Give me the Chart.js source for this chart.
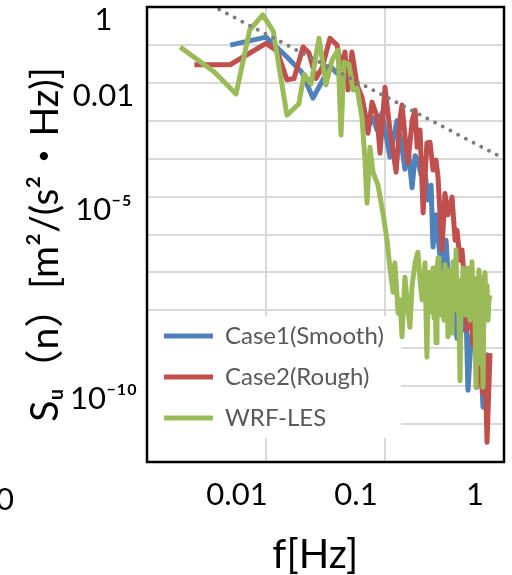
<!DOCTYPE html>
<html>
<head>
<meta charset="utf-8">
<script src="https://cdn.jsdelivr.net/npm/chart.js@4.4.0/dist/chart.umd.min.js"></script>
<style>
  html, body { margin: 0; padding: 0; background: #fff; }
</style>
</head>
<body>
<canvas id="spec" width="512" height="575"></canvas>
<script>
// axis ticks (log decades), labels only on some of them
const xTicks = [0.001, 0.01, 0.1, 1];
const xTickLabels = ['', '0.01', '0.1', '1'];
const yTicks = [1, 1e-1, 1e-2, 1e-3, 1e-4, 1e-5, 1e-6, 1e-7, 1e-8, 1e-9, 1e-10, 1e-11, 1e-12];
const yTickLabels = ['1', '', '0.01', '', '', '10⁻⁵', '', '', '', '', '10⁻¹⁰', '', ''];

// Case1 (Smooth)
const case1F = [0.005, 0.01, 0.015, 0.020, 0.0248, 0.0301, 0.0345, 0.0395, 0.0479, 0.0582, 0.0653, 0.0720, 0.0793, 0.0857, 0.0944, 0.110, 0.126, 0.136, 0.147, 0.156, 0.169, 0.179, 0.189, 0.201, 0.217, 0.230, 0.244, 0.253, 0.268, 0.290, 0.307, 0.326, 0.345, 0.366, 0.388, 0.403, 0.427, 0.452, 0.479, 0.498, 0.528, 0.560, 0.593, 0.628, 0.666, 0.692, 0.748];
const case1S = [9.9e-2, 1.6e-1, 4.8e-2, 1.9e-2, 4.0e-3, 1.2e-2, 2.8e-2, 1.8e-2, 1.05e-2, 7.3e-3, 2.9e-3, 6.8e-4, 1.2e-3, 5.7e-4, 1.6e-3, 1.1e-4, 1.0e-3, 3.1e-4, 5.3e-5, 2.0e-4, 1.7e-5, 1.2e-4, 9.2e-5, 3.7e-5, 4.2e-5, 8.1e-6, 2.0e-5, 4.7e-7, 3.3e-6, 2.5e-7, 1.15e-7, 7.1e-7, 3.4e-8, 8.5e-8, 5.5e-9, 1.85e-9, 1.9e-8, 3.0e-9, 1.0e-8, 7.8e-11, 1.6e-9, 5.5e-9, 2.6e-10, 1.6e-9, 2.8e-11, 4.9e-10, 7.4e-10];

// Case2 (Rough)
const case2F = [0.0025, 0.005, 0.01, 0.0124, 0.015, 0.0172, 0.0205, 0.0230, 0.0263, 0.0296, 0.0345, 0.0395, 0.0435, 0.0461, 0.0489, 0.0528, 0.0582, 0.0641, 0.0720, 0.0778, 0.0857, 0.0908, 0.100, 0.110, 0.124, 0.134, 0.139, 0.147, 0.156, 0.169, 0.179, 0.186, 0.197, 0.209, 0.225, 0.239, 0.253, 0.268, 0.279, 0.301, 0.319, 0.338, 0.366, 0.388, 0.403, 0.427, 0.444, 0.461, 0.489, 0.518, 0.549, 0.571, 0.593, 0.628, 0.666, 0.692, 0.720, 0.763];
const case2S = [3.0e-2, 3.0e-2, 1.1e-1, 6.9e-2, 1.2e-2, 1.3e-2, 8.8e-2, 6.1e-2, 1.3e-2, 2.5e-2, 1.5e-1, 9.9e-2, 2.2e-2, 6.5e-2, 6.5e-3, 6.5e-2, 8.8e-3, 4.2e-3, 4.7e-4, 3.1e-3, 1.3e-3, 1.4e-4, 7.7e-3, 5.7e-4, 4.4e-5, 1.2e-3, 2.6e-3, 4.2e-4, 7.7e-5, 1.0e-3, 1.9e-3, 2.0e-4, 5.7e-4, 3.7e-6, 2.6e-4, 2.7e-4, 5.0e-5, 9.2e-5, 3.3e-5, 3.9e-7, 1.2e-5, 3.3e-6, 9.7e-6, 7.1e-7, 1.3e-6, 2.1e-7, 3.9e-7, 8.5e-8, 3.0e-9, 3.4e-8, 1.2e-9, 5.5e-9, 9.4e-11, 8.9e-10, 6.5e-11, 6.6e-10, 3.3e-12, 7.4e-10];

// WRF-LES
const wrfF = [0.0019, 0.0037, 0.0056, 0.0073, 0.0094, 0.0115, 0.015, 0.0189, 0.0209, 0.0239, 0.0279, 0.0319, 0.0359, 0.0403, 0.0427, 0.0452, 0.0498, 0.0538, 0.0582, 0.0641, 0.0679, 0.0706, 0.0748, 0.0793, 0.0873, 0.0962, 0.104, 0.110, 0.117, 0.121, 0.129, 0.134, 0.139, 0.147, 0.153, 0.162, 0.169, 0.179, 0.189, 0.197, 0.205, 0.217, 0.225,
  0.2298, 0.2343, 0.2388, 0.2435, 0.2483, 0.2531, 0.2581, 0.2632, 0.2683, 0.2735, 0.2789, 0.2843, 0.2900, 0.2956, 0.3013, 0.3072, 0.3132, 0.3193, 0.3256, 0.3319, 0.3384, 0.3450, 0.3518, 0.3586, 0.3656, 0.3728, 0.3800, 0.3875, 0.3950, 0.4027, 0.4106, 0.4186, 0.4270, 0.4353, 0.4437, 0.4524, 0.4612, 0.4702, 0.4794, 0.4888, 0.4983, 0.5081, 0.5180, 0.5281, 0.5383, 0.5489, 0.5596, 0.5706, 0.5817, 0.5930, 0.6046, 0.6164, 0.6284, 0.6407, 0.6533, 0.6660, 0.6790, 0.6923, 0.7058, 0.7196, 0.7337, 0.7480, 0.7627];
const wrfS = [8.8e-2, 1.9e-2, 5.1e-3, 2.5e-1, 6.2e-1, 2.3e-1, 1.4e-3, 2.8e-3, 1.7e-2, 9.3e-3, 1.5e-1, 8.8e-3, 4.0e-2, 7.3e-2, 4.2e-4, 3.5e-2, 3.1e-2, 6.5e-3, 7.3e-3, 1.2e-3, 9.2e-5, 6.7e-6, 2.0e-4, 4.4e-5, 2.0e-5, 3.7e-6, 7.1e-7, 1.3e-7, 3.0e-8, 1.8e-7, 8.4e-9, 1.9e-8, 2.0e-9, 7.5e-8, 1.9e-8, 3.6e-9, 4.6e-8, 1.8e-7, 3.4e-7, 6.3e-8, 1.9e-8, 1.8e-7, 5.8e-10,
  1.9e-8, 1.0e-7, 9.0e-9, 8.5e-8, 1.4e-8, 1.3e-7, 6.2e-9, 6.3e-8, 1.4e-9, 1.15e-7, 2.4e-7, 1.4e-8, 6.3e-8, 7.5e-9, 1.0e-7, 1.9e-8, 5.5e-9, 1.6e-7, 1.4e-8, 4.6e-8, 2.0e-9, 1.15e-7, 1.9e-8, 7.1e-8, 2.5e-9, 1.9e-7, 1.9e-8, 1.15e-7, 3.9e-7, 1.0e-8, 4.6e-8, 6.2e-9, 1.4e-10, 6.3e-8, 1.4e-8, 1.3e-7, 3.4e-8, 7.5e-9, 8.5e-8, 1.9e-8, 1.3e-7, 1.0e-8, 5.5e-9, 4.6e-8, 1.9e-7, 1.4e-8, 7.1e-8, 7.5e-9, 9.4e-11, 6.3e-8, 1.9e-8, 1.15e-7, 4.0e-10, 3.4e-8, 7.5e-8, 9.4e-11, 1.9e-8, 1.0e-7, 1.0e-8, 4.6e-8, 5.5e-9, 1.9e-8, 2.5e-8];

// -5/3 reference line (two end points)
const slopeF = [0.003, 1];
const slopeS = [1.4, 1.0e-4];

const FONT = "Lato, 'Noto Sans CJK JP', 'DejaVu Sans', sans-serif";
Chart.defaults.font.family = FONT;

const pts = (fs, ss) => fs.map((f, i) => ({ x: f, y: ss[i] }));

const lineStyle = (color) => ({
  borderColor: color,
  backgroundColor: color,
  borderWidth: 5,
  pointRadius: 0,
  tension: 0,
  borderJoinStyle: 'round',
  fill: false
});

// no automatic edge padding for the tick labels
const noEdgePad = (scale) => {
  scale.paddingTop = 0;
  scale.paddingBottom = 0;
  scale.paddingLeft = 0;
  scale.paddingRight = 0;
};

// white box behind the legend, then the legend again on top of it
const legendBox = {
  id: 'legendBox',
  afterLayout(chart) {
    chart.legend.top -= 8;
    chart.legend.bottom -= 8;
  },
  beforeDatasetsDraw(chart) {
    const ctx = chart.ctx;
    ctx.save();
    ctx.fillStyle = '#ffffff';
    ctx.fillRect(chart.chartArea.left + 1, 316, 253, 122);
    ctx.restore();
    chart.legend.draw();
  },
  afterDraw(chart) {
    const { ctx, chartArea: a } = chart;
    ctx.save();
    ctx.strokeStyle = '#000000';
    ctx.lineWidth = 2.5;
    ctx.strokeRect(a.left, a.top, a.right - a.left, a.bottom - a.top);
    // cut-off label of the neighbouring figure
    ctx.fillStyle = '#000000';
    ctx.font = '31px ' + FONT;
    ctx.textAlign = 'right';
    ctx.textBaseline = 'middle';
    ctx.fillText('0', 14, 500);
    ctx.restore();
  }
};

new Chart(document.getElementById('spec'), {
  type: 'line',
  data: {
    datasets: [
      Object.assign({ label: '-5/3', data: pts(slopeF, slopeS), borderDash: [0, 8.7], borderCapStyle: 'round' },
        lineStyle('#7f7f7f'), { borderWidth: 4, clip: 0 }),
      Object.assign({ label: 'WRF-LES', data: pts(wrfF, wrfS), clip: 0 }, lineStyle('#9BBB59')),
      Object.assign({ label: 'Case2(Rough)', data: pts(case2F, case2S), clip: 0 }, lineStyle('#C0504D')),
      Object.assign({ label: 'Case1(Smooth)', data: pts(case1F, case1S), clip: 0 }, lineStyle('#4F81BD'))
    ]
  },
  options: {
    responsive: false,
    devicePixelRatio: 1,
    animation: false,
    events: [],
    layout: { padding: { top: 7, right: 8, left: 0, bottom: 0 } },
    scales: {
      x: {
        type: 'logarithmic',
        min: 0.001,
        max: 1,
        afterBuildTicks: (scale) => { scale.ticks = xTicks.map(v => ({ value: v })); },
        afterFit: (scale) => { scale.height = 113; noEdgePad(scale); },
        grid: { color: '#d9d9d9', lineWidth: 2, drawTicks: false },
        border: { display: false },
        ticks: {
          autoSkip: false,
          maxRotation: 0,
          padding: 14,
          labelOffset: -29,
          color: '#000',
          font: { size: 31 },
          callback: (v, i) => xTickLabels[i]
        },
        title: {
          display: true,
          text: 'f[Hz]  ',
          color: '#000',
          font: { size: 40, lineHeight: 1 },
          padding: 0
        }
      },
      y: {
        type: 'logarithmic',
        min: 1e-12,
        max: 1,
        afterBuildTicks: (scale) => { scale.ticks = yTicks.map(v => ({ value: v })); },
        afterFit: (scale) => { scale.width = 147; noEdgePad(scale); },
        grid: { color: '#d9d9d9', lineWidth: 2, drawTicks: false },
        border: { display: false },
        ticks: {
          autoSkip: false,
          padding: 10,
          labelOffset: 13,
          crossAlign: 'center',
          color: '#000',
          font: { size: 31 },
          callback: (v, i) => yTickLabels[i]
        },
        title: {
          display: true,
          text: 'Sᵤ（n）[m²/(s²・Hz)]  ',
          color: '#000',
          font: { size: 39 },
          padding: { top: 22, bottom: 0 }
        }
      }
    },
    plugins: {
      tooltip: { enabled: false },
      legend: {
        position: 'chartArea',
        align: 'end',
        fullSize: false,
        labels: {
          usePointStyle: true,
          pointStyle: 'line',
          pointStyleWidth: 49,
          padding: 17,
          color: '#595959',
          font: { size: 24 },
          filter: (item) => item.datasetIndex > 0,
          sort: (a, b) => b.datasetIndex - a.datasetIndex
        }
      }
    }
  },
  plugins: [legendBox]
});
</script>
</body>
</html>
